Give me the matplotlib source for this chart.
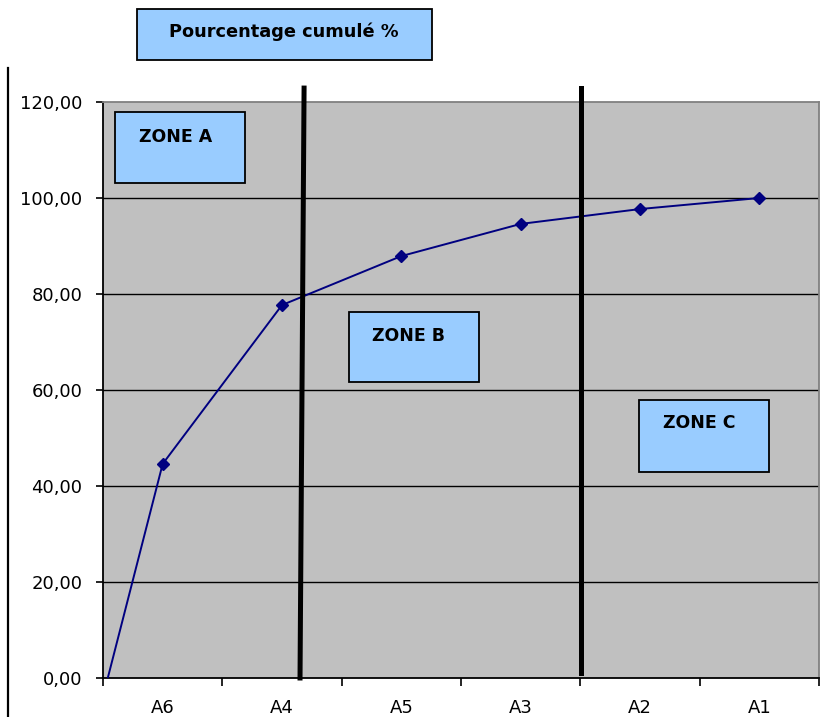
import matplotlib.pyplot as plt
from matplotlib.patches import Rectangle
from matplotlib.lines import Line2D

# cumulative percentage per article, sorted by decreasing share
categories = ['A6', 'A4', 'A5', 'A3', 'A2', 'A1']
cumul = [44.6, 77.7, 87.9, 94.6, 97.7, 100.0]
start_value = 0.0
y_ticks = [0, 20, 40, 60, 80, 100, 120]

W, H = 835, 717
fig = plt.figure(figsize=(W / 100, H / 100), dpi=100)
plt.rcParams['font.family'] = 'DejaVu Sans'


def fx(px):
    return px / W


def fy(py):
    return 1 - py / H


ax = fig.add_axes([fx(103), fy(678), fx(819) - fx(103), fy(102) - fy(678)])
ax.set_facecolor('#c0c0c0')
ax.set_xlim(-0.5, len(categories) - 0.5)
ax.set_ylim(0, 120)

for v in y_ticks[1:-1]:
    ax.axhline(v, color='black', lw=1.0, zorder=1)

# curve starts from zero at the left edge, then one point per article
xs = [-0.46] + list(range(len(categories)))
ys = [start_value] + cumul
ax.plot(xs, ys, color='#000080', lw=1.4, zorder=3)
ax.plot(range(len(categories)), cumul, ls='none', marker='D', ms=6.5,
        color='#000080', zorder=4)

ax.set_yticks(y_ticks)
ax.set_yticklabels([f'{v:.2f}'.replace('.', ',') for v in y_ticks])
ax.set_xticks(range(len(categories)))
ax.set_xticklabels(categories)
ax.set_xticks([i - 0.5 for i in range(len(categories) + 1)], minor=True)
ax.tick_params(axis='y', length=5, width=1.2, labelsize=13, pad=10)
ax.tick_params(axis='x', which='major', length=0, labelsize=13, pad=15)
ax.tick_params(axis='x', which='minor', length=5.5, width=1.2)

for side in ('left', 'bottom'):
    ax.spines[side].set_linewidth(1.3)
    ax.spines[side].set_color('black')
for side in ('top', 'right'):
    ax.spines[side].set_linewidth(1.3)
    ax.spines[side].set_color('#808080')

# zone separators
ax.plot([1.185, 1.151], [122.9, 0], color='black', lw=3.6, clip_on=False, zorder=5)
ax.plot([3.507, 3.507], [122.9, 1.0], color='black', lw=3.6, clip_on=False, zorder=5)

# left frame line
fig.add_artist(Line2D([fx(8), fx(8)], [fy(68), fy(717)], color='black', lw=1.6))


def label_box(x0, y0, x1, y1, text, tx, ty, size=12.5):
    fig.add_artist(Rectangle((fx(x0), fy(y1)), fx(x1) - fx(x0), fy(y0) - fy(y1),
                             facecolor='#99ccff', edgecolor='black', lw=1.3,
                             transform=fig.transFigure, zorder=6))
    fig.text(fx(tx), fy(ty), text, ha='center', va='center', fontsize=size,
             fontweight='bold', zorder=7)


label_box(137, 9, 432, 60, 'Pourcentage cumulé %', 284, 32, size=12.8)
label_box(115, 112, 245, 183, 'ZONE A', 176, 137)
label_box(349, 312, 479, 382, 'ZONE B', 409, 336)
label_box(639, 400, 769, 472, 'ZONE C', 699, 423)

fig.savefig('out.png', dpi=100)
